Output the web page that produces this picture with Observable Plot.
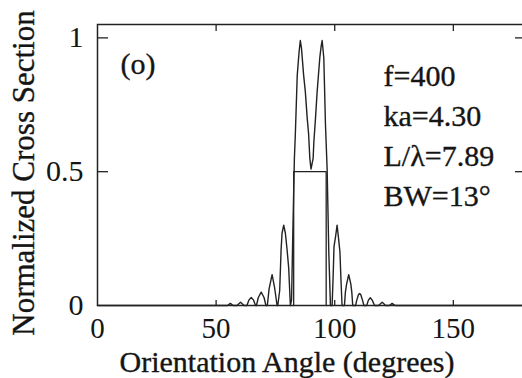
<!DOCTYPE html>
<html>
<head>
<meta charset="utf-8">
<script src="https://cdn.jsdelivr.net/npm/d3@7"></script>
<script src="https://cdn.jsdelivr.net/npm/@observablehq/plot@0.6"></script>
<style>
  html, body { margin: 0; padding: 0; background: #fff; overflow: hidden; }
  #chart svg { display: block; overflow: hidden; }
</style>
</head>
<body>
<div id="chart"></div>
<script>
// ---- data ----
const angles = [
  0, 54.8, 56.0, 57.2, 58.8, 60.3, 61.8, 63.0, 63.8, 64.8, 65.8, 66.6,
  67.0, 67.8, 69.0, 70.2, 71.0, 71.6, 72.3, 73.6, 74.6, 75.7,
  76.0, 76.8, 77.4, 77.8, 78.5, 79.2, 79.9, 80.6, 81.3,
  81.8, 82.4, 83.0, 83.4, 84.2, 85.0, 85.5, 86.0, 86.9, 87.6, 88.4, 89.0, 89.5, 90.0,
  90.9, 91.2, 91.9, 92.6, 93.7, 94.3, 94.7, 95.4, 96.1, 96.8, 97.5, 98.2,
  98.9, 99.3, 99.7, 100.4, 101.0, 101.5, 102.2, 102.7, 103.1,
  104.1, 104.5, 105.0, 105.9, 106.8, 107.2, 107.6,
  108.8, 109.3, 110.0, 110.5, 111.0, 111.7, 112.3,
  113.5, 114.2, 115.0, 115.8, 116.8,
  118.5, 120.0, 121.5, 123.0, 124.2, 125.5, 180
];
const crossSection = [
  0, 0, 0.008, 0, 0, 0.012, 0, 0, 0.02, 0.03, 0.02, 0,
  0, 0.03, 0.05, 0.03, 0, 0, 0.06, 0.115, 0.07, 0,
  0, 0.056, 0.21, 0.27, 0.30, 0.27, 0.21, 0.14, 0,
  0.02, 0.3, 0.55, 0.64, 0.86, 0.95, 0.99, 0.96, 0.86, 0.80, 0.70, 0.64, 0.55, 0.51,
  0.55, 0.61, 0.70, 0.80, 0.925, 0.97, 0.99, 0.925, 0.675, 0.51, 0.2, 0,
  0, 0.1, 0.22, 0.26, 0.30, 0.26, 0.2, 0.08, 0,
  0, 0.05, 0.08, 0.115, 0.08, 0.05, 0,
  0, 0.02, 0.04, 0.045, 0.04, 0.02, 0,
  0, 0.02, 0.029, 0.02, 0,
  0, 0.012, 0, 0, 0.008, 0, 0
];
const xTicks = [0, 50, 100, 150];
const yTicks = [0, 0.5, 1];
const bwLeft = 82.7, bwRight = 96.4, halfPower = 0.5;
const panelLabel = "(o)";
const annotation = ["f=400", "ka=4.30", "L/\u03bb=7.89", "BW=13\u00b0"];
const xLabel = "Orientation Angle (degrees)";
const yLabel = "Normalized Cross Section";

// ---- layout ----
const W = 522, H = 378, mL = 97, mT = 24, mB = 73, mR = -2;
const xDomain = [0, 180], yDomain = [0, 1.05];
const pxPerDeg = (W - mR - mL) / (xDomain[1] - xDomain[0]);
const pxPerUnit = (H - mT - mB) / (yDomain[1] - yDomain[0]);
const ink = "#222";
const textInk = "#151515";
const font = "'Liberation Serif', 'Times New Roman', serif";
const fs = 30;
const txt = {fontSize: fs, fill: textInk, stroke: textInk, strokeWidth: 0.35};

const curve = angles.map((a, i) => ({a, v: crossSection[i]}));
const bwPath = [
  {a: bwLeft, v: 0}, {a: bwLeft, v: halfPower},
  {a: bwRight, v: halfPower}, {a: bwRight, v: 0}
];

const chart = Plot.plot({
  width: W, height: H,
  marginLeft: mL, marginTop: mT, marginBottom: mB, marginRight: mR,
  x: {domain: xDomain},
  y: {domain: yDomain},
  style: {fontFamily: font, fontSize: fs + "px", background: "#fff", color: ink, overflow: "hidden"},
  marks: [
    Plot.frame({stroke: ink, strokeWidth: 1.5}),
    // inward ticks
    Plot.ruleY(yTicks.filter(d => d > 0), {y: d => d, x1: xDomain[0], x2: xDomain[0] + 11 / pxPerDeg, stroke: ink, strokeWidth: 1.3}),
    Plot.ruleY(yTicks.filter(d => d > 0), {y: d => d, x1: xDomain[1] - 9 / pxPerDeg, x2: xDomain[1], stroke: ink, strokeWidth: 1.3}),
    Plot.ruleX(xTicks.filter(d => d > 0), {x: d => d, y1: yDomain[1] - 7 / pxPerUnit, y2: yDomain[1], stroke: ink, strokeWidth: 1.3}),
    Plot.ruleX(xTicks.filter(d => d > 0), {x: d => d, y1: yDomain[0], y2: yDomain[0] + 5 / pxPerUnit, stroke: ink, strokeWidth: 1.3}),
    // tick labels
    Plot.axisX({ticks: xTicks, tickSize: 0, tickPadding: 12, tickFormat: d => String(d), label: null, ...txt, fontSize: 29}),
    Plot.axisY({ticks: yTicks, tickSize: 0, tickPadding: 14, tickFormat: d => String(d), label: null, ...txt}),
    // half-power beamwidth marker
    Plot.line(bwPath, {x: "a", y: "v", stroke: ink, strokeWidth: 1.3}),
    // curve
    Plot.line(curve, {x: "a", y: "v", stroke: ink, strokeWidth: 1.4}),
    // texts
    Plot.text([panelLabel], {text: d => d, frameAnchor: "top-left", textAnchor: "start", lineAnchor: "bottom", dx: 23, dy: 49.5, ...txt}),
    Plot.text([annotation.join("\n")], {text: d => d, frameAnchor: "top-left", textAnchor: "start", lineAnchor: "bottom", lineHeight: 40 / fs, dx: 286, dy: 181, ...txt}),
    Plot.text([xLabel], {text: d => d, frameAnchor: "bottom", textAnchor: "middle", lineAnchor: "bottom", dx: -24, dy: 66, ...txt}),
    Plot.text([yLabel], {text: d => d, frameAnchor: "left", rotate: -90, textAnchor: "middle", lineAnchor: "bottom", dx: -64, dy: 8, ...txt, fontSize: 31})
  ]
});
document.getElementById("chart").appendChild(chart);
</script>
</body>
</html>
